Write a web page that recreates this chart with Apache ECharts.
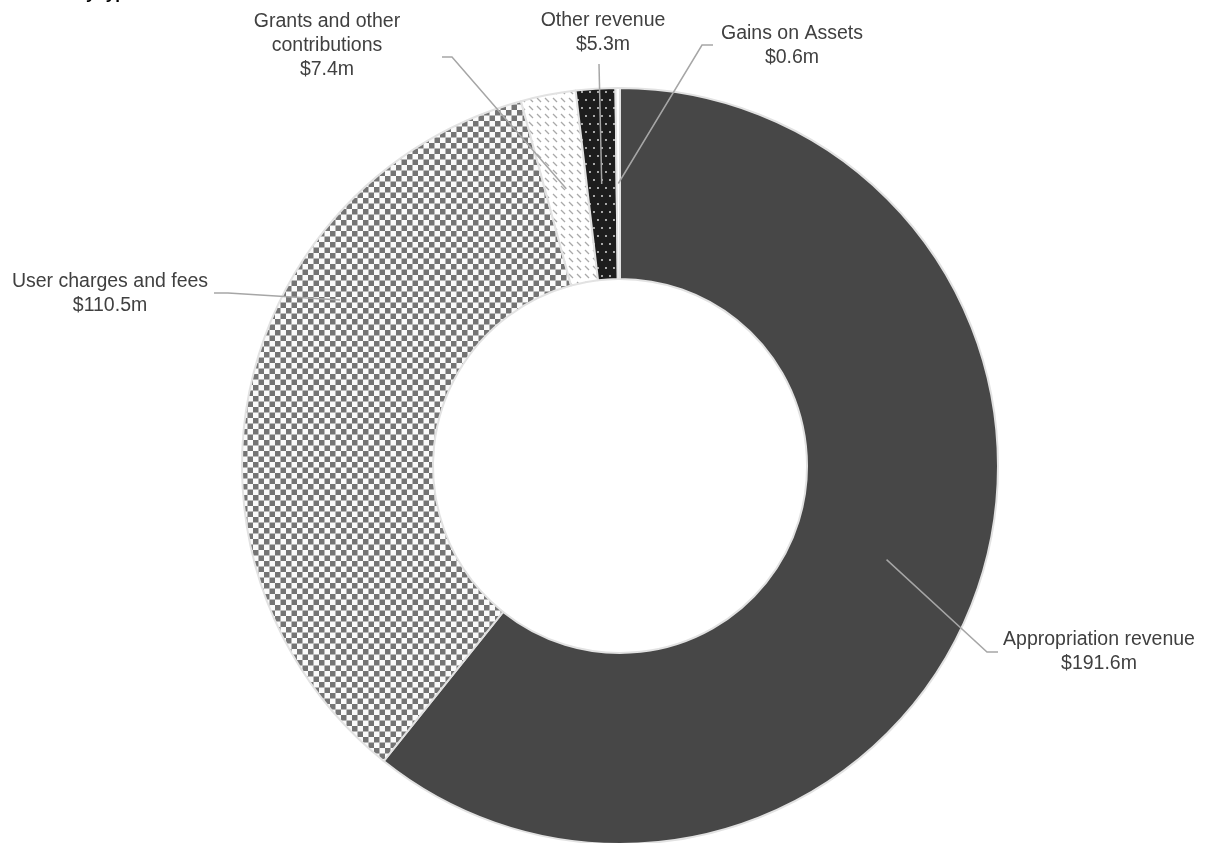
<!DOCTYPE html>
<html>
<head>
<meta charset="utf-8">
<script src="https://cdn.jsdelivr.net/npm/echarts@6/dist/echarts.min.js"></script>
<style>
  html, body { margin: 0; padding: 0; background: #fff; }
  #chart { width: 1205px; height: 843px; }
</style>
</head>
<body>
<div id="chart"></div>
<script>
// data, clockwise from 12 o'clock
const categories = ['Appropriation revenue', 'User charges and fees', 'Grants and other contributions', 'Other revenue', 'Gains on Assets']
const labelNames = ['Appropriation revenue', 'User charges and fees', 'Grants and other\ncontributions', 'Other revenue', 'Gains on Assets']
const values = [191.6, 110.5, 7.4, 5.3, 0.6]
const valueLabels = ['$191.6m', '$110.5m', '$7.4m', '$5.3m', '$0.6m']

// label placement (text centre, elbow and end of the leader line)
const labelSpots = [
  { x: 1099, y: 652, elbow: [987, 652], end: [998, 652] },
  { x: 110, y: 294, elbow: [228, 293], end: [214, 293], anchor: [340, 300] },
  { x: 327, y: 46, elbow: [452, 57], end: [442, 57] },
  { x: 603, y: 33, elbow: [599, 64], end: [599, 64] },
  { x: 792, y: 46, elbow: [702, 45], end: [713, 45] }
]

const cx = 620
const cy = 466
const rIn = 187
const rOut = 378
const font = "'Liberation Sans', Arial, sans-serif"

// fill patterns
function tile(w, h, draw) {
  const c = document.createElement('canvas')
  c.width = w
  c.height = h
  draw(c.getContext('2d'))
  return { image: c, repeat: 'repeat' }
}
const checker = tile(11, 11, g => {
  g.fillStyle = '#fafafa'
  g.fillRect(0, 0, 11, 11)
  g.fillStyle = '#747474'
  g.fillRect(0, 0, 5.5, 5.5)
  g.fillRect(5.5, 5.5, 5.5, 5.5)
})
const hatch = tile(8, 8, g => {
  g.fillStyle = '#ffffff'
  g.fillRect(0, 0, 8, 8)
  g.strokeStyle = '#a9a9a9'
  g.lineWidth = 1.2
  g.beginPath()
  g.moveTo(1, 2)
  g.lineTo(5, 6)
  g.stroke()
})
const dots = tile(8, 16, g => {
  g.fillStyle = '#1d1d1d'
  g.fillRect(0, 0, 8, 16)
  g.fillStyle = '#d8d8d8'
  g.beginPath()
  g.arc(2, 4, 1, 0, Math.PI * 2)
  g.arc(6, 12, 1, 0, Math.PI * 2)
  g.fill()
})
const fills = ['#474747', checker, hatch, dots, '#ffffff']

// leader line anchors: middle of the ring at each slice's mid angle
const total = values.reduce((a, b) => a + b, 0)
let cum = 0
const anchors = values.map(v => {
  const a = (cum + v / 2) / total * Math.PI * 2
  cum += v
  const r = (rIn + rOut) / 2
  return [cx + r * Math.sin(a), cy - r * Math.cos(a)]
})

const leaderLines = labelSpots.map((s, i) => ({
  type: 'polyline',
  z: 100,
  silent: true,
  shape: { points: [s.anchor || anchors[i], s.elbow, s.end] },
  style: { stroke: '#a6a6a6', lineWidth: 1.5, fill: null }
}))

const myChart = echarts.init(document.getElementById('chart'))
const option = {
  backgroundColor: '#ffffff',
  animation: false,
  graphic: [{
    // title, cut off by the top edge in the original
    type: 'text',
    x: 0,
    y: 3,
    style: {
      text: 'Revenue by type',
      font: "bold 17px 'Liberation Sans', Arial, sans-serif",
      fill: '#000',
      verticalAlign: 'bottom'
    }
  }].concat(leaderLines),
  series: [{
    type: 'pie',
    center: [cx, cy],
    radius: [rIn, rOut],
    startAngle: 90,
    clockwise: true,
    silent: true,
    data: values.map((v, i) => ({
      name: categories[i],
      value: v,
      itemStyle: { color: fills[i] }
    })),
    itemStyle: {
      borderColor: '#e2e2e2',
      borderWidth: 2
    },
    label: {
      show: true,
      formatter: p => labelNames[p.dataIndex] + '\n' + valueLabels[p.dataIndex],
      color: '#404040',
      fontFamily: font,
      fontSize: 19.5,
      lineHeight: 24,
      align: 'center',
      overflow: 'none'
    },
    labelLine: { show: false },
    labelLayout: function (p) {
      const s = labelSpots[p.dataIndex]
      return {
        x: s.x,
        y: s.y,
        align: 'center',
        verticalAlign: 'middle',
        width: 260
      }
    }
  }]
}
myChart.setOption(option)
</script>
</body>
</html>
